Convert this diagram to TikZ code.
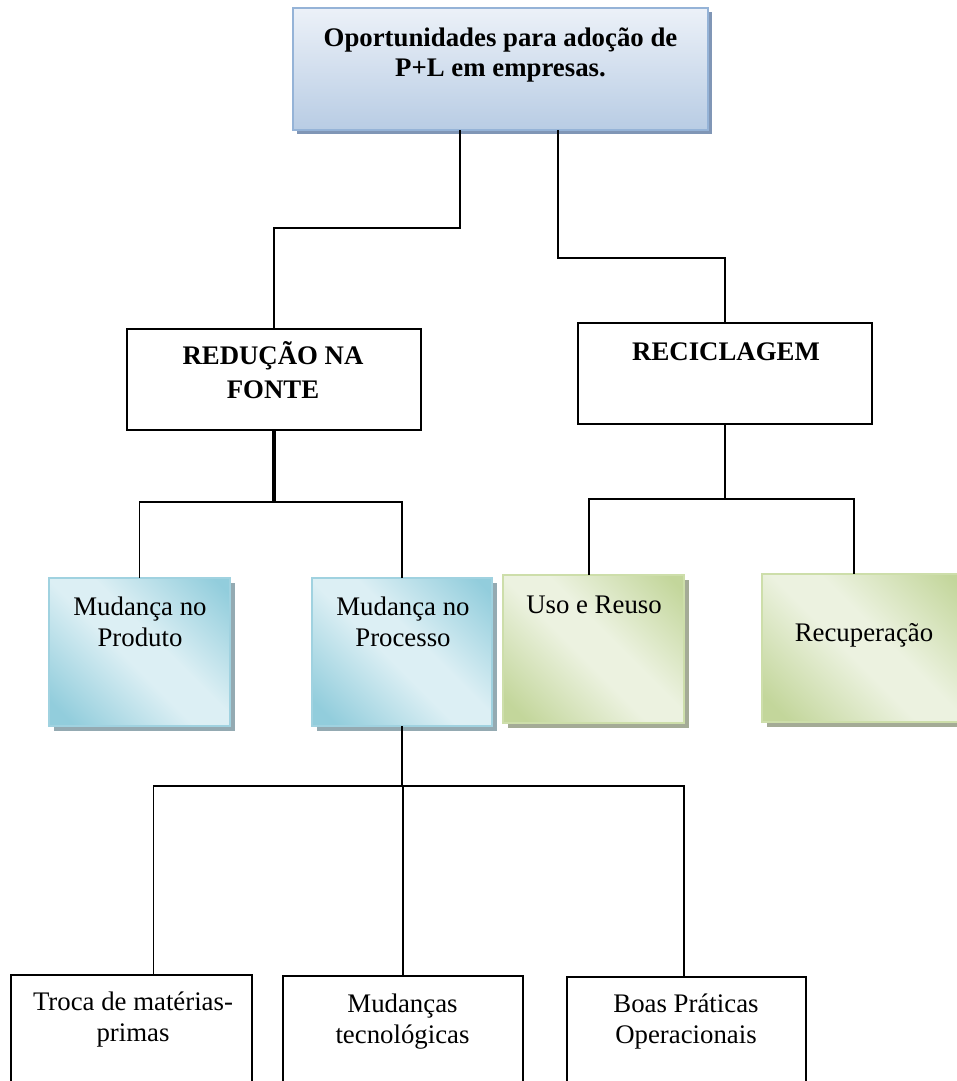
\documentclass[tikz,border=0pt]{standalone}
\usepackage{fontspec}
\setmainfont{Liberation Serif}
\usetikzlibrary{backgrounds}

% palette
\definecolor{topborder}{RGB}{149,179,215}
\definecolor{toplight}{RGB}{236,241,248}
\definecolor{topdark}{RGB}{184,204,228}
\definecolor{topshadow}{RGB}{128,150,182}
\definecolor{bluedark}{RGB}{146,205,220}
\definecolor{bluelight}{RGB}{220,239,244}
\definecolor{blueborder}{RGB}{160,210,224}
\definecolor{blueshadow}{RGB}{148,170,178}
\definecolor{greendark}{RGB}{195,214,155}
\definecolor{greenlight}{RGB}{236,242,224}
\definecolor{greenborder}{RGB}{205,222,170}
\definecolor{greenshadow}{RGB}{164,171,150}

% diagonal two-tone fills: dark corners, light middle band
\pgfdeclarehorizontalshading{bluediag}{100bp}{color(0bp)=(bluedark); color(20bp)=(bluedark); color(46bp)=(bluelight); color(56bp)=(bluelight); color(82bp)=(bluedark); color(100bp)=(bluedark)}
\pgfdeclarehorizontalshading{greendiag}{100bp}{color(0bp)=(greendark); color(20bp)=(greendark); color(46bp)=(greenlight); color(56bp)=(greenlight); color(82bp)=(greendark); color(100bp)=(greendark)}

\tikzset{
  box/.style={rectangle, inner sep=0pt, outer sep=0pt},
  topbox/.style={box, draw=topborder, line width=1.8pt, top color=toplight, bottom color=topdark},
  plainbox/.style={box, draw=black, line width=1.8pt, fill=white},
  bluebox/.style={box, draw=blueborder, line width=1.6pt, shading=bluediag, shading angle=45},
  greenbox/.style={box, draw=greenborder, line width=1.6pt, shading=greendiag, shading angle=45},
  lbl/.style={inner sep=0pt, anchor=base, font=\fontsize{26.8pt}{31pt}\selectfont},
  blbl/.style={lbl, font=\fontsize{26.8pt}{31pt}\selectfont\bfseries},
  link/.style={draw=black, line width=1.6pt},
  heavylink/.style={draw=black, line width=3.4pt},
}

\begin{document}
\begin{tikzpicture}[x=1pt, y=-1pt]
\useasboundingbox (0,0) rectangle (957,1081);
\clip (0,0) rectangle (957,1081);

% boxes
\node[topbox, minimum width=415pt, minimum height=122pt] (top) at (500.5,69) {};
\node[plainbox, minimum width=294pt, minimum height=101pt] (red) at (274,379.5) {};
\node[plainbox, minimum width=294pt, minimum height=101pt] (rec) at (725,373.5) {};
\node[bluebox, minimum width=181pt, minimum height=148pt] (prod) at (139.5,652) {};
\node[bluebox, minimum width=180pt, minimum height=148pt] (proc) at (402,652) {};
\node[greenbox, minimum width=181pt, minimum height=148pt] (uso) at (593.5,649) {};
\node[greenbox, minimum width=204pt, minimum height=148pt] (recu) at (864,648) {};
\node[plainbox, minimum width=241pt, minimum height=145pt] (troca) at (131.5,1047.5) {};
\node[plainbox, minimum width=240pt, minimum height=144pt] (mudt) at (403,1048) {};
\node[plainbox, minimum width=239pt, minimum height=143pt] (boas) at (686.5,1048.5) {};

% solid offset shadows behind the coloured boxes
\begin{scope}[on background layer]
  \fill[topshadow] ([shift={(4,4)}]top.south west) rectangle ([shift={(4,4)}]top.north east);
  \foreach \b in {prod,proc}
    \fill[blueshadow] ([shift={(5,5)}]\b.south west) rectangle ([shift={(5,5)}]\b.north east);
  \foreach \b in {uso,recu}
    \fill[greenshadow] ([shift={(5,5)}]\b.south west) rectangle ([shift={(5,5)}]\b.north east);
\end{scope}

% labels
\node[blbl] (topA) at (500.5,47) {Oportunidades para adoção de};
\node[blbl] (topB) at (500.5,76.5) {P+L em empresas.};
\node[blbl] (redA) at (273,364) {REDUÇÃO NA};
\node[blbl] (redB) at (273,398) {FONTE};
\node[blbl] (recA) at (726,360.5) {RECICLAGEM};
\node[lbl] (prodA) at (140,615.5) {Mudança no};
\node[lbl] (prodB) at (140,646.5) {Produto};
\node[lbl] (procA) at (403,615.5) {Mudança no};
\node[lbl] (procB) at (403,646.5) {Processo};
\node[lbl] (usoA) at (594,613) {Uso e Reuso};
\node[lbl] (recuA) at (864,641.5) {Recuperação};
\node[lbl] (trocaA) at (133,1010) {Troca de matérias-};
\node[lbl] (trocaB) at (133,1041.5) {primas};
\node[lbl] (mudtA) at (402.5,1012.5) {Mudanças};
\node[lbl] (mudtB) at (402.5,1043) {tecnológicas};
\node[lbl] (boasA) at (686,1012.5) {Boas Práticas};
\node[lbl] (boasB) at (686,1043) {Operacionais};

% connectors
\draw[link] ([xshift=-40.5pt]top.south) -- ++(0,98) -| (red.north);
\draw[link] ([xshift=57.5pt]top.south) -- ++(0,128) -| (rec.north);

\draw[heavylink] (red.south) -- ++(0,72) coordinate (redj);
\draw[link] (prod.north) |- (redj) -| (proc.north);

\draw[link] (rec.south) -- ++(0,75) coordinate (recj);
\draw[link] ([xshift=-4.5pt]uso.north) |- (recj) -| ([xshift=-10pt]recu.north);

\draw[link] (proc.south) -- ++(0,60) coordinate (procj);
\draw[link] ([xshift=22pt]troca.north) |- (procj) -| (mudt.north);
\draw[link] (procj) -| ([xshift=-2.5pt]boas.north);
\end{tikzpicture}
\end{document}
